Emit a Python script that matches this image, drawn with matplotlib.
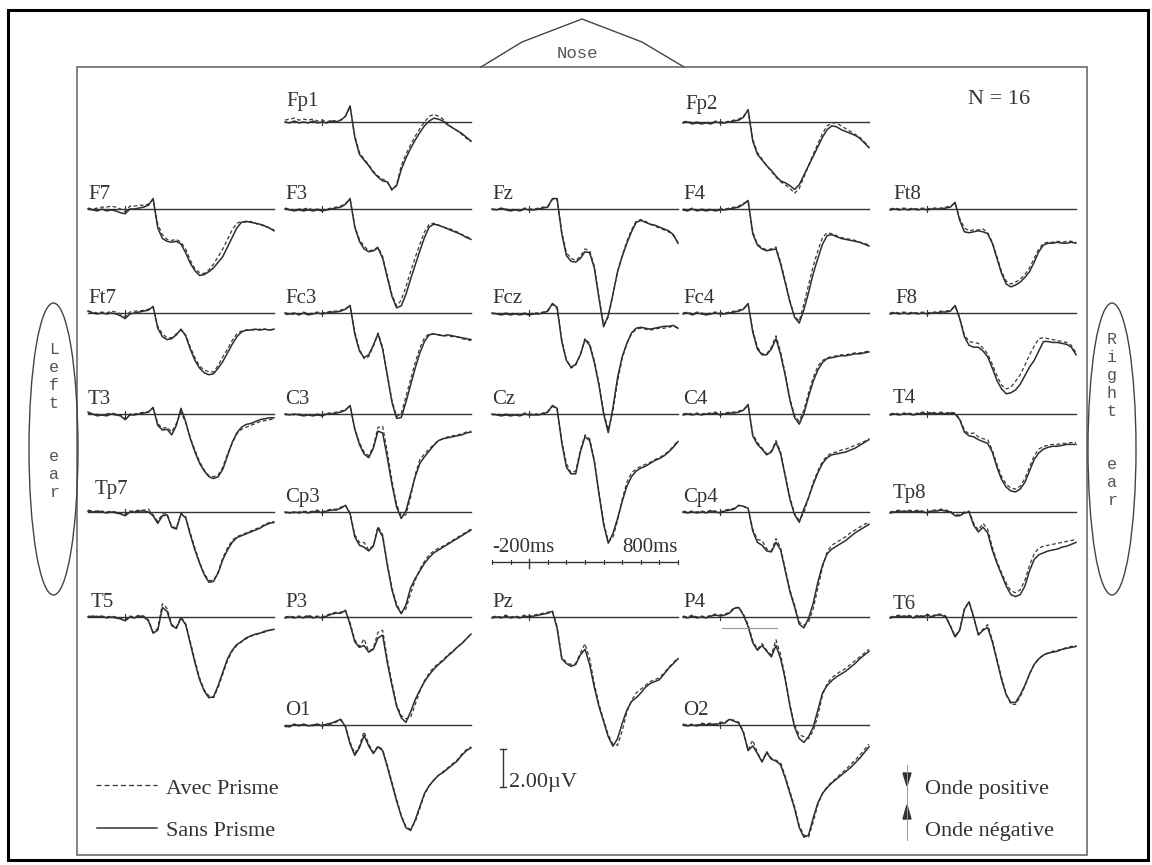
import numpy as np
import matplotlib
matplotlib.use('Agg')
import matplotlib.pyplot as plt
from matplotlib.patches import Ellipse, Rectangle, Polygon

# time base of every trace (ms), one sample every 25 ms
times = np.arange(-200, 801, 25)

# grand average ERPs, microvolts, positive wave plotted downwards
# column 1
f7_sans = [0.0, 0.05, 0.1, 0.0, 0.1, 0.05, 0.1, 0.2, 0.25, 0.0, 0.0, -0.05, -0.1, -0.2, -0.55, 1.0, 1.55, 1.7, 1.75, 1.7, 1.85, 2.3, 2.85, 3.25, 3.5, 3.45, 3.3, 3.1, 2.8, 2.5, 2.0, 1.5, 1.0, 0.7, 0.65, 0.7, 0.75, 0.8, 0.9, 1.0, 1.15]
f7_avec = [-0.05, 0.0, -0.05, -0.1, -0.1, -0.15, -0.1, 0.0, 0.15, -0.15, -0.15, -0.2, -0.2, -0.25, -0.5, 0.8, 1.35, 1.6, 1.65, 1.6, 1.75, 2.1, 2.7, 3.15, 3.35, 3.4, 3.2, 2.9, 2.5, 2.1, 1.6, 1.1, 0.75, 0.65, 0.7, 0.65, 0.75, 0.85, 0.85, 1.0, 1.1]
ft7_sans = [-0.1, 0.0, 0.05, 0.0, 0.05, 0.0, 0.05, 0.15, 0.3, 0.05, 0.0, -0.05, -0.1, -0.15, -0.35, 0.8, 1.25, 1.4, 1.35, 1.15, 0.85, 1.2, 1.9, 2.5, 2.9, 3.15, 3.25, 3.2, 2.9, 2.55, 2.1, 1.65, 1.25, 1.0, 0.9, 0.9, 0.85, 0.9, 0.85, 0.9, 0.85]
ft7_avec = [-0.1, -0.05, 0.0, -0.05, 0.0, -0.1, -0.05, 0.05, 0.2, -0.05, -0.1, -0.1, -0.15, -0.2, -0.3, 0.7, 1.1, 1.3, 1.3, 1.1, 0.9, 1.15, 1.8, 2.35, 2.8, 3.0, 3.1, 3.1, 2.75, 2.3, 1.9, 1.45, 1.1, 0.95, 0.9, 0.85, 0.9, 0.85, 0.85, 0.9, 0.85]
t3_sans = [-0.1, 0.0, 0.1, 0.05, 0.1, 0.0, 0.05, 0.1, 0.3, 0.05, 0.05, 0.0, -0.05, -0.1, -0.35, 0.6, 0.85, 0.8, 1.1, 0.6, -0.3, 0.4, 1.3, 2.0, 2.6, 3.0, 3.3, 3.4, 3.3, 2.9, 2.2, 1.5, 1.0, 0.7, 0.55, 0.5, 0.4, 0.3, 0.25, 0.2, 0.2]
t3_avec = [-0.05, 0.05, 0.0, 0.05, 0.0, -0.05, 0.0, 0.05, 0.25, 0.0, 0.0, -0.05, -0.1, -0.1, -0.3, 0.5, 0.75, 0.7, 0.95, 0.5, -0.1, 0.45, 1.25, 1.9, 2.5, 2.95, 3.25, 3.3, 3.2, 2.8, 2.1, 1.55, 1.05, 0.8, 0.7, 0.6, 0.5, 0.4, 0.35, 0.3, 0.25]
tp7_sans = [-0.05, 0.0, -0.05, 0.0, 0.05, 0.0, 0.05, 0.1, 0.2, 0.0, 0.0, -0.05, -0.05, 0.0, 0.2, 0.6, 0.2, 0.15, 0.8, 0.9, 0.1, 0.3, 1.2, 2.0, 2.7, 3.3, 3.7, 3.65, 3.2, 2.5, 2.0, 1.6, 1.35, 1.25, 1.15, 1.05, 0.95, 0.85, 0.7, 0.6, 0.55]
tp7_avec = [-0.1, -0.05, 0.0, -0.05, 0.0, -0.05, 0.0, 0.05, 0.15, -0.05, -0.05, -0.1, -0.1, -0.15, 0.15, 0.5, 0.1, 0.1, 0.75, 0.85, 0.05, 0.25, 1.1, 1.9, 2.65, 3.25, 3.6, 3.6, 3.15, 2.4, 1.9, 1.5, 1.3, 1.2, 1.1, 1.0, 0.9, 0.8, 0.65, 0.55, 0.5]
t5_sans = [0.0, -0.05, 0.0, -0.05, 0.05, 0.0, 0.05, 0.1, 0.2, 0.0, 0.05, -0.05, 0.0, 0.2, 0.85, 0.7, -0.5, -0.3, 0.45, 0.6, 0.05, 0.4, 1.4, 2.4, 3.3, 3.9, 4.25, 4.2, 3.6, 2.9, 2.2, 1.75, 1.45, 1.3, 1.1, 1.0, 0.9, 0.85, 0.75, 0.7, 0.65]
t5_avec = [-0.05, 0.0, -0.05, 0.0, 0.0, -0.05, 0.0, 0.05, 0.15, -0.05, 0.0, -0.1, -0.05, 0.15, 0.8, 0.6, -0.7, -0.45, 0.4, 0.55, 0.0, 0.35, 1.3, 2.3, 3.2, 3.85, 4.15, 4.25, 3.7, 3.0, 2.3, 1.8, 1.5, 1.3, 1.15, 1.0, 0.95, 0.85, 0.8, 0.7, 0.65]

# column 2
fp1_sans = [0.0, 0.05, -0.05, 0.05, 0.0, 0.05, -0.05, 0.05, 0.0, 0.05, -0.05, 0.0, -0.1, -0.3, -0.85, 0.8, 1.7, 2.0, 2.3, 2.65, 2.9, 3.1, 3.15, 3.55, 3.35, 2.5, 1.9, 1.4, 0.95, 0.55, 0.2, -0.05, -0.2, -0.15, -0.05, 0.15, 0.3, 0.45, 0.6, 0.8, 1.0]
fp1_avec = [-0.1, -0.15, -0.2, -0.1, -0.15, -0.1, -0.15, -0.05, -0.1, 0.0, -0.1, -0.05, -0.1, -0.3, -0.8, 0.7, 1.6, 1.95, 2.25, 2.6, 2.85, 3.0, 3.15, 3.6, 3.3, 2.3, 1.7, 1.2, 0.75, 0.35, 0.0, -0.3, -0.4, -0.3, -0.15, 0.1, 0.3, 0.45, 0.65, 0.85, 1.05]
f3_sans = [0.0, 0.05, 0.1, 0.05, 0.1, 0.05, 0.1, 0.05, 0.1, 0.05, 0.0, -0.05, -0.1, -0.25, -0.55, 0.95, 1.7, 2.1, 2.25, 2.2, 2.05, 2.6, 3.6, 4.6, 5.2, 5.1, 4.5, 3.7, 2.95, 2.2, 1.5, 0.95, 0.8, 0.85, 0.95, 1.05, 1.15, 1.25, 1.35, 1.5, 1.6]
f3_avec = [-0.05, 0.0, 0.05, 0.0, 0.0, -0.05, 0.05, 0.0, 0.05, 0.0, -0.05, -0.1, -0.15, -0.3, -0.5, 0.9, 1.6, 1.95, 2.2, 2.15, 2.0, 2.5, 3.5, 4.5, 5.1, 4.8, 4.1, 3.3, 2.55, 1.85, 1.2, 0.8, 0.75, 0.85, 0.95, 1.0, 1.1, 1.2, 1.35, 1.45, 1.55]
fc3_sans = [0.0, 0.05, 0.0, 0.1, 0.0, 0.1, 0.05, 0.0, 0.05, 0.0, -0.05, -0.05, -0.1, -0.2, -0.4, 1.1, 2.0, 2.35, 2.2, 1.7, 1.1, 1.9, 3.3, 4.7, 5.55, 5.5, 4.7, 3.8, 2.9, 2.1, 1.5, 1.15, 1.1, 1.15, 1.2, 1.15, 1.2, 1.25, 1.3, 1.35, 1.4]
fc3_avec = [0.05, 0.1, 0.05, 0.05, -0.05, 0.05, 0.0, -0.05, 0.0, -0.05, -0.1, -0.1, -0.15, -0.25, -0.35, 1.0, 1.9, 2.4, 2.3, 1.75, 1.05, 1.8, 3.2, 4.6, 5.45, 5.3, 4.4, 3.5, 2.6, 1.85, 1.3, 1.1, 1.1, 1.15, 1.2, 1.2, 1.25, 1.25, 1.35, 1.4, 1.45]
c3_sans = [0.0, 0.05, 0.0, 0.05, 0.1, 0.05, 0.1, 0.05, 0.1, 0.0, 0.0, -0.05, -0.1, -0.2, -0.45, 0.8, 1.6, 2.1, 2.3, 1.8, 0.9, 1.0, 2.3, 3.7, 4.9, 5.5, 5.1, 4.2, 3.3, 2.6, 2.25, 1.95, 1.65, 1.4, 1.3, 1.25, 1.2, 1.15, 1.1, 1.0, 0.95]
c3_avec = [0.05, 0.0, 0.05, 0.0, 0.05, 0.0, 0.05, 0.0, 0.05, -0.05, -0.05, -0.1, -0.15, -0.25, -0.4, 0.75, 1.5, 2.0, 2.2, 1.7, 0.7, 0.65, 2.0, 3.5, 4.75, 5.35, 5.3, 4.4, 3.2, 2.4, 2.1, 1.85, 1.6, 1.4, 1.3, 1.2, 1.15, 1.1, 1.05, 0.95, 0.9]
cp3_sans = [0.0, 0.05, 0.0, 0.05, 0.0, 0.05, 0.0, -0.05, 0.05, -0.05, -0.1, -0.1, -0.2, -0.35, 0.1, 1.3, 1.75, 1.85, 2.05, 1.8, 0.85, 1.3, 2.8, 4.1, 4.95, 5.35, 4.9, 4.0, 3.5, 3.1, 2.7, 2.4, 2.15, 2.0, 1.85, 1.7, 1.55, 1.4, 1.25, 1.1, 0.95]
cp3_avec = [0.05, 0.0, 0.05, 0.0, -0.05, 0.0, -0.05, -0.1, 0.0, -0.1, -0.15, -0.15, -0.25, -0.35, 0.05, 1.2, 1.6, 1.6, 2.0, 1.75, 0.75, 1.2, 2.7, 4.0, 4.85, 5.3, 5.1, 4.3, 3.6, 3.0, 2.6, 2.25, 2.05, 1.9, 1.8, 1.65, 1.5, 1.35, 1.2, 1.05, 0.9]
p3_sans = [0.05, 0.0, 0.05, 0.0, 0.05, -0.05, 0.05, 0.0, 0.05, -0.05, -0.15, -0.2, -0.2, -0.35, 0.4, 1.3, 1.6, 1.5, 1.85, 1.7, 1.1, 0.95, 2.4, 3.6, 4.7, 5.3, 5.55, 5.0, 4.35, 3.85, 3.4, 3.05, 2.75, 2.5, 2.3, 2.05, 1.85, 1.6, 1.4, 1.15, 0.9]
p3_avec = [0.0, -0.05, 0.0, -0.05, 0.0, -0.1, 0.0, -0.05, 0.0, -0.1, -0.2, -0.25, -0.25, -0.35, 0.3, 1.2, 1.55, 1.15, 1.8, 1.65, 0.8, 0.7, 2.2, 3.45, 4.6, 5.2, 5.35, 5.3, 4.6, 3.9, 3.35, 2.95, 2.65, 2.45, 2.25, 2.0, 1.8, 1.6, 1.4, 1.15, 0.9]
o1_sans = [0.05, 0.1, -0.05, 0.05, -0.05, 0.05, 0.0, -0.05, 0.05, -0.05, -0.1, -0.2, -0.3, 0.1, 1.0, 1.6, 1.2, 0.55, 1.1, 1.5, 1.15, 1.35, 2.2, 3.1, 4.0, 4.8, 5.4, 5.55, 5.0, 4.3, 3.6, 3.2, 2.9, 2.65, 2.5, 2.3, 2.1, 1.9, 1.6, 1.35, 1.2]
o1_avec = [0.1, 0.05, 0.0, 0.0, 0.0, 0.0, 0.05, 0.0, 0.0, 0.0, -0.05, -0.15, -0.25, 0.05, 0.9, 1.5, 1.1, 0.35, 1.0, 1.45, 1.1, 1.3, 2.1, 3.0, 3.9, 4.75, 5.35, 5.5, 5.1, 4.4, 3.65, 3.2, 2.9, 2.65, 2.45, 2.25, 2.05, 1.85, 1.55, 1.3, 1.15]

# column 3 (midline)
fz_sans = [0.0, 0.05, -0.05, 0.05, 0.1, 0.05, 0.1, 0.0, 0.05, 0.05, 0.0, -0.05, -0.1, -0.55, -0.55, 1.3, 2.45, 2.75, 2.8, 2.6, 2.25, 2.3, 3.1, 4.7, 6.2, 5.6, 4.5, 3.3, 2.5, 1.8, 1.2, 0.7, 0.6, 0.7, 0.8, 0.85, 0.95, 1.05, 1.15, 1.35, 1.8]
fz_avec = [0.05, 0.0, 0.0, 0.0, 0.05, 0.0, 0.05, -0.05, 0.0, 0.0, -0.05, -0.1, -0.15, -0.5, -0.5, 1.2, 2.3, 2.6, 2.7, 2.5, 2.1, 2.2, 3.0, 4.6, 6.1, 5.7, 4.5, 3.3, 2.45, 1.7, 1.1, 0.65, 0.55, 0.65, 0.8, 0.9, 1.0, 1.1, 1.2, 1.4, 1.75]
fcz_sans = [0.0, 0.05, 0.1, 0.05, 0.1, 0.05, 0.1, 0.05, 0.1, 0.05, 0.05, 0.0, -0.1, -0.5, -0.3, 1.5, 2.5, 2.85, 2.7, 2.2, 1.4, 1.7, 2.6, 3.8, 5.3, 6.3, 5.0, 3.4, 2.3, 1.6, 1.05, 0.8, 0.75, 0.8, 0.85, 0.8, 0.75, 0.7, 0.7, 0.65, 0.8]
fcz_avec = [0.05, 0.0, 0.05, 0.0, 0.05, 0.0, 0.05, 0.0, 0.05, 0.0, 0.0, -0.05, -0.15, -0.45, -0.25, 1.4, 2.45, 2.9, 2.75, 2.2, 1.35, 1.6, 2.5, 3.7, 5.2, 6.15, 5.2, 3.6, 2.4, 1.6, 1.1, 0.85, 0.8, 0.85, 0.9, 0.85, 0.8, 0.8, 0.75, 0.7, 0.8]
cz_sans = [0.0, 0.05, 0.1, 0.05, 0.1, 0.05, 0.1, 0.0, 0.05, 0.05, 0.05, 0.0, -0.1, -0.45, -0.3, 1.5, 2.8, 3.15, 3.15, 2.0, 1.2, 1.4, 2.5, 4.2, 5.8, 6.8, 6.3, 5.5, 4.6, 3.8, 3.3, 3.0, 2.85, 2.75, 2.6, 2.45, 2.35, 2.2, 2.0, 1.75, 1.45]
cz_avec = [0.05, 0.0, 0.05, 0.0, 0.05, 0.0, 0.05, -0.05, 0.0, 0.0, 0.0, -0.05, -0.15, -0.4, -0.25, 1.4, 2.6, 3.1, 3.0, 1.9, 1.1, 1.3, 2.4, 4.1, 5.7, 6.7, 6.5, 5.6, 4.5, 3.6, 3.1, 2.9, 2.75, 2.65, 2.55, 2.4, 2.3, 2.15, 1.95, 1.7, 1.4]
pz_sans = [0.05, 0.0, 0.05, -0.05, 0.05, 0.0, 0.05, -0.05, 0.0, -0.05, -0.1, -0.15, -0.2, -0.3, 0.6, 2.2, 2.45, 2.6, 2.5, 2.0, 1.7, 2.5, 3.7, 4.7, 5.5, 6.3, 6.8, 6.4, 5.6, 4.9, 4.45, 4.25, 4.0, 3.7, 3.5, 3.4, 3.3, 3.0, 2.7, 2.45, 2.2]
pz_avec = [0.0, -0.05, 0.0, -0.1, 0.0, -0.05, 0.0, -0.1, -0.05, -0.1, -0.15, -0.2, -0.25, -0.3, 0.5, 2.1, 2.4, 2.5, 2.45, 1.9, 1.4, 2.2, 3.5, 4.6, 5.4, 6.2, 6.7, 6.75, 6.0, 5.0, 4.4, 4.0, 3.8, 3.6, 3.4, 3.3, 3.2, 2.95, 2.65, 2.4, 2.15]

# column 4
fp2_sans = [0.05, 0.0, 0.1, 0.05, 0.1, 0.05, 0.1, 0.0, 0.05, 0.05, 0.0, -0.05, -0.1, -0.25, -0.65, 1.0, 1.7, 2.0, 2.3, 2.55, 2.85, 3.1, 3.2, 3.35, 3.55, 3.3, 2.8, 2.3, 1.8, 1.3, 0.8, 0.4, 0.2, 0.25, 0.4, 0.5, 0.6, 0.7, 0.85, 1.1, 1.35]
fp2_avec = [0.0, -0.05, 0.05, 0.0, 0.05, 0.0, 0.05, -0.05, 0.0, 0.0, -0.05, -0.1, -0.15, -0.3, -0.6, 0.9, 1.6, 1.95, 2.3, 2.6, 2.9, 3.15, 3.3, 3.5, 3.75, 3.5, 2.9, 2.3, 1.7, 1.15, 0.6, 0.2, 0.05, 0.05, 0.2, 0.35, 0.5, 0.65, 0.8, 1.05, 1.3]
f4_sans = [0.05, 0.1, 0.0, 0.1, 0.05, 0.1, 0.05, 0.1, 0.05, 0.05, 0.0, -0.05, -0.1, -0.25, -0.45, 1.3, 1.9, 2.1, 2.2, 2.15, 2.1, 2.9, 3.9, 4.9, 5.7, 6.0, 5.3, 4.4, 3.4, 2.6, 1.85, 1.4, 1.35, 1.45, 1.55, 1.6, 1.65, 1.7, 1.75, 1.85, 1.95]
f4_avec = [0.0, 0.05, -0.05, 0.05, 0.0, 0.05, 0.0, 0.05, 0.0, 0.0, -0.05, -0.1, -0.15, -0.3, -0.4, 1.2, 1.85, 2.05, 2.15, 2.1, 2.0, 2.8, 3.8, 4.85, 5.65, 5.9, 5.0, 4.0, 3.0, 2.2, 1.5, 1.25, 1.3, 1.4, 1.5, 1.55, 1.6, 1.65, 1.75, 1.8, 1.9]
fc4_sans = [0.05, 0.0, 0.1, 0.0, 0.05, 0.1, 0.05, 0.0, 0.05, 0.05, 0.0, -0.05, -0.1, -0.2, -0.5, 1.0, 1.9, 2.2, 2.2, 1.9, 1.35, 2.2, 3.3, 4.6, 5.5, 5.85, 5.3, 4.4, 3.6, 3.0, 2.6, 2.4, 2.35, 2.3, 2.25, 2.25, 2.2, 2.15, 2.15, 2.1, 2.05]
fc4_avec = [0.0, -0.05, 0.05, -0.05, 0.0, 0.05, 0.0, -0.05, 0.0, 0.0, -0.05, -0.1, -0.15, -0.25, -0.45, 0.9, 1.8, 2.15, 2.15, 1.8, 1.2, 2.05, 3.2, 4.5, 5.4, 5.7, 5.1, 4.2, 3.4, 2.8, 2.5, 2.35, 2.3, 2.25, 2.2, 2.2, 2.15, 2.1, 2.1, 2.05, 2.0]
c4_sans = [0.05, 0.0, 0.05, 0.0, 0.05, 0.0, 0.0, -0.05, 0.05, 0.0, -0.05, -0.05, -0.1, -0.2, -0.5, 1.15, 1.6, 1.85, 2.15, 2.0, 1.5, 2.1, 3.3, 4.5, 5.3, 5.7, 5.0, 4.4, 3.7, 3.1, 2.6, 2.3, 2.15, 2.1, 2.05, 2.0, 1.9, 1.8, 1.65, 1.5, 1.35]
c4_avec = [0.0, -0.05, 0.0, -0.05, 0.0, -0.05, -0.05, -0.1, 0.0, -0.05, -0.1, -0.1, -0.15, -0.25, -0.45, 1.05, 1.5, 1.8, 2.1, 1.95, 1.4, 2.0, 3.2, 4.4, 5.25, 5.6, 5.2, 4.4, 3.6, 3.0, 2.5, 2.2, 2.05, 2.0, 1.9, 1.85, 1.75, 1.65, 1.55, 1.45, 1.3]
cp4_sans = [0.0, 0.05, 0.0, 0.05, 0.0, 0.05, -0.05, 0.0, 0.05, -0.05, -0.1, -0.15, -0.35, -0.3, -0.2, 1.0, 1.6, 1.75, 2.05, 2.1, 1.6, 2.0, 3.1, 4.2, 5.0, 5.9, 6.1, 5.6, 4.8, 3.7, 2.8, 2.2, 1.95, 1.8, 1.65, 1.5, 1.3, 1.1, 0.95, 0.8, 0.65]
cp4_avec = [-0.05, 0.0, -0.05, 0.0, -0.05, 0.0, -0.1, -0.05, 0.0, -0.1, -0.15, -0.2, -0.35, -0.3, -0.15, 0.9, 1.45, 1.5, 1.95, 2.05, 1.4, 1.9, 3.0, 4.1, 4.9, 5.8, 5.95, 5.8, 5.1, 4.0, 2.9, 2.1, 1.75, 1.6, 1.45, 1.3, 1.1, 0.95, 0.8, 0.65, 0.55]
p4_sans = [0.0, 0.05, -0.05, 0.05, 0.0, 0.05, -0.05, -0.1, -0.05, -0.1, -0.2, -0.45, -0.5, -0.1, 0.5, 1.35, 1.75, 1.5, 1.8, 2.1, 1.5, 2.2, 3.3, 4.7, 5.8, 6.4, 6.6, 6.3, 5.8, 4.9, 4.0, 3.6, 3.35, 3.15, 3.0, 2.85, 2.65, 2.45, 2.2, 2.0, 1.8]
p4_avec = [-0.05, 0.0, -0.1, 0.0, -0.05, 0.0, -0.1, -0.15, -0.1, -0.15, -0.25, -0.5, -0.5, -0.15, 0.4, 1.25, 1.7, 1.4, 1.75, 2.0, 1.2, 2.0, 3.2, 4.6, 5.7, 6.2, 6.3, 6.4, 6.0, 5.2, 4.1, 3.5, 3.2, 3.0, 2.85, 2.7, 2.5, 2.3, 2.1, 1.9, 1.7]
o2_sans = [0.0, 0.05, 0.0, 0.05, -0.05, 0.0, -0.05, 0.0, -0.1, -0.1, -0.3, -0.2, -0.1, 0.4, 1.35, 1.1, 1.5, 1.95, 1.45, 1.8, 1.9, 2.1, 2.8, 3.6, 4.4, 5.4, 5.9, 5.8, 4.9, 4.1, 3.6, 3.3, 3.05, 2.85, 2.65, 2.45, 2.25, 2.0, 1.75, 1.45, 1.15]
o2_avec = [-0.05, 0.0, -0.05, 0.0, -0.1, -0.05, -0.1, -0.05, -0.15, -0.15, -0.3, -0.25, -0.15, 0.35, 1.3, 0.8, 1.45, 1.9, 1.4, 1.75, 1.85, 2.0, 2.7, 3.5, 4.3, 5.3, 5.8, 5.9, 5.1, 4.2, 3.6, 3.25, 3.0, 2.8, 2.55, 2.35, 2.1, 1.85, 1.6, 1.3, 1.0]

# column 5
ft8_sans = [0.05, 0.0, 0.05, 0.0, 0.05, 0.0, 0.05, 0.0, 0.05, 0.0, 0.0, 0.0, -0.05, -0.1, -0.35, 0.6, 1.2, 1.25, 1.2, 1.15, 1.2, 1.3, 1.8, 2.6, 3.4, 3.95, 4.1, 4.0, 3.85, 3.6, 3.3, 2.8, 2.25, 1.9, 1.8, 1.8, 1.75, 1.8, 1.8, 1.75, 1.8]
ft8_avec = [0.0, -0.05, 0.0, -0.05, 0.0, -0.05, 0.0, -0.05, 0.0, -0.05, -0.05, -0.05, -0.1, -0.15, -0.3, 0.5, 1.0, 1.15, 1.1, 1.1, 1.05, 1.25, 1.75, 2.5, 3.3, 3.8, 3.95, 3.85, 3.7, 3.45, 3.1, 2.6, 2.1, 1.8, 1.75, 1.75, 1.7, 1.75, 1.7, 1.7, 1.75]
f8_sans = [0.05, 0.0, 0.05, 0.0, 0.05, 0.0, 0.05, 0.0, 0.05, 0.0, 0.0, -0.05, -0.05, -0.1, -0.4, 0.3, 1.25, 1.7, 1.8, 1.8, 2.0, 2.3, 2.9, 3.55, 4.0, 4.25, 4.2, 4.05, 3.75, 3.3, 2.85, 2.5, 2.0, 1.5, 1.5, 1.55, 1.55, 1.6, 1.65, 1.8, 2.2]
f8_avec = [0.0, -0.05, 0.0, -0.05, 0.0, -0.05, 0.0, -0.05, 0.0, -0.05, -0.05, -0.1, -0.1, -0.15, -0.35, 0.25, 1.15, 1.5, 1.55, 1.6, 1.85, 2.15, 2.7, 3.3, 3.8, 4.0, 3.9, 3.6, 3.25, 2.75, 2.2, 1.75, 1.35, 1.3, 1.35, 1.4, 1.45, 1.5, 1.55, 1.7, 2.1]
t4_sans = [0.05, 0.0, 0.05, 0.0, 0.0, 0.05, 0.0, -0.05, 0.0, -0.05, 0.0, -0.05, 0.0, -0.05, 0.0, 0.3, 0.95, 1.15, 1.2, 1.35, 1.45, 1.55, 2.0, 2.8, 3.45, 3.85, 4.05, 4.1, 3.95, 3.6, 3.0, 2.4, 2.05, 1.85, 1.75, 1.7, 1.7, 1.65, 1.6, 1.6, 1.6]
t4_avec = [0.0, -0.05, 0.0, -0.05, -0.05, 0.0, -0.05, -0.1, -0.05, -0.1, -0.05, -0.1, -0.05, -0.1, -0.05, 0.25, 0.85, 1.05, 1.0, 1.2, 1.3, 1.35, 1.9, 2.65, 3.3, 3.7, 3.9, 3.95, 3.8, 3.4, 2.8, 2.2, 1.85, 1.7, 1.65, 1.6, 1.6, 1.55, 1.55, 1.5, 1.5]
tp8_sans = [0.05, 0.0, -0.05, 0.0, -0.05, 0.0, -0.05, 0.0, 0.05, -0.05, -0.05, -0.1, -0.05, 0.0, 0.2, 0.2, 0.05, 0.0, 0.7, 1.05, 0.8, 1.1, 2.0, 2.7, 3.3, 3.9, 4.35, 4.45, 4.35, 3.9, 3.1, 2.5, 2.25, 2.15, 2.05, 2.0, 1.95, 1.85, 1.8, 1.7, 1.6]
tp8_avec = [0.0, -0.05, -0.1, -0.05, -0.1, -0.05, -0.1, -0.05, 0.0, -0.1, -0.1, -0.15, -0.1, -0.05, 0.15, 0.15, 0.0, -0.05, 0.6, 0.95, 0.6, 0.9, 1.85, 2.6, 3.2, 3.75, 4.15, 4.25, 4.1, 3.6, 2.8, 2.2, 1.9, 1.8, 1.75, 1.7, 1.65, 1.6, 1.55, 1.5, 1.45]
t6_sans = [0.05, 0.0, -0.05, 0.0, -0.05, 0.05, -0.05, 0.0, -0.1, 0.0, -0.1, -0.1, 0.0, 0.5, 1.05, 0.7, -0.4, -0.8, 0.0, 0.95, 0.7, 0.55, 1.3, 2.3, 3.3, 4.1, 4.5, 4.5, 4.1, 3.6, 3.0, 2.5, 2.2, 2.0, 1.9, 1.85, 1.8, 1.7, 1.65, 1.6, 1.55]
t6_avec = [0.0, -0.05, -0.1, -0.05, -0.1, 0.0, -0.1, -0.05, -0.15, -0.05, -0.15, -0.15, -0.05, 0.45, 1.0, 0.65, -0.45, -0.8, 0.05, 0.9, 0.65, 0.4, 1.2, 2.2, 3.2, 4.05, 4.6, 4.6, 4.2, 3.65, 3.0, 2.5, 2.2, 2.0, 1.9, 1.8, 1.75, 1.7, 1.6, 1.55, 1.5]

# electrode name, column, row, avec prisme, sans prisme
electrodes = [
    ('F7', 0, 1, f7_avec, f7_sans), ('Ft7', 0, 2, ft7_avec, ft7_sans),
    ('T3', 0, 3, t3_avec, t3_sans), ('Tp7', 0, 4, tp7_avec, tp7_sans),
    ('T5', 0, 5, t5_avec, t5_sans),
    ('Fp1', 1, 0, fp1_avec, fp1_sans), ('F3', 1, 1, f3_avec, f3_sans),
    ('Fc3', 1, 2, fc3_avec, fc3_sans), ('C3', 1, 3, c3_avec, c3_sans),
    ('Cp3', 1, 4, cp3_avec, cp3_sans), ('P3', 1, 5, p3_avec, p3_sans),
    ('O1', 1, 6, o1_avec, o1_sans),
    ('Fz', 2, 1, fz_avec, fz_sans), ('Fcz', 2, 2, fcz_avec, fcz_sans),
    ('Cz', 2, 3, cz_avec, cz_sans), ('Pz', 2, 5, pz_avec, pz_sans),
    ('Fp2', 3, 0, fp2_avec, fp2_sans), ('F4', 3, 1, f4_avec, f4_sans),
    ('Fc4', 3, 2, fc4_avec, fc4_sans), ('C4', 3, 3, c4_avec, c4_sans),
    ('Cp4', 3, 4, cp4_avec, cp4_sans), ('P4', 3, 5, p4_avec, p4_sans),
    ('O2', 3, 6, o2_avec, o2_sans),
    ('Ft8', 4, 1, ft8_avec, ft8_sans), ('F8', 4, 2, f8_avec, f8_sans),
    ('T4', 4, 3, t4_avec, t4_sans), ('Tp8', 4, 4, tp8_avec, tp8_sans),
    ('T6', 4, 5, t6_avec, t6_sans),
]

# page layout in pixels
PX_PER_MS = 0.186
PX_PER_UV = 19.0
COL_X = [88, 285, 492, 683, 890]
ROW_Y = [122, 209, 313, 414, 512, 617, 725]
label_pos = {'Fp1': (1, 16), 'Fp2': (2, 13), 'Tp7': (7, 18), 'T5': (3, 10),
             'Ft8': (3, 10), 'F8': (5, 10), 'T4': (3, 11), 'Tp8': (3, 14), 'T6': (3, 8)}

INK = '#2e2e2e'
SERIF = 'Liberation Serif'

fig = plt.figure(figsize=(11.52, 8.65), dpi=100)
ax = fig.add_axes([0, 0, 1, 1])
ax.set_xlim(0, 1152)
ax.set_ylim(865, 0)
ax.axis('off')

# frames
ax.add_patch(Rectangle((8, 10), 1140, 850, fill=False, ec='black', lw=2.2))
ax.add_patch(Rectangle((77, 67), 1010, 788, fill=False, ec='#777777', lw=1.3))

# nose and ears
ax.plot([481, 522, 582, 642, 684], [67, 42, 19, 42, 67], color='#444444', lw=1.0)
ax.text(577, 53, 'Nose', family='Liberation Mono', fontsize=12.5, color='#555555',
        ha='center', va='center')
ax.add_patch(Ellipse((53.5, 449), 49, 292, fill=False, ec='#444444', lw=1.0))
ax.add_patch(Ellipse((1112, 449), 48, 292, fill=False, ec='#444444', lw=1.0))
for i, ch in enumerate('Left  ear'):
    if ch != ' ':
        ax.text(54, 350 + 17.8 * i, ch, family='Liberation Mono', fontsize=12,
                color='#555555', ha='center', va='center')
for i, ch in enumerate('Right  ear'):
    if ch != ' ':
        ax.text(1112, 340 + 17.8 * i, ch, family='Liberation Mono', fontsize=12,
                color='#555555', ha='center', va='center')

# traces
for name, col, row, avec, sans in electrodes:
    x0, y0 = COL_X[col], ROW_Y[row]
    xs = x0 + (times - times[0]) * PX_PER_MS
    x_end = x0 + (times[-1] - times[0]) * PX_PER_MS
    x_zero = x0 + (0 - times[0]) * PX_PER_MS
    ax.plot([x0, x_end], [y0, y0], color='#333333', lw=1.0)
    ax.plot([x_zero, x_zero], [y0 - 3, y0 + 3], color='#333333', lw=0.8)
    ax.plot(xs, y0 + np.array(avec) * PX_PER_UV, color='#3a3a3a', lw=0.9,
            ls=(0, (3, 2)))
    ax.plot(xs, y0 + np.array(sans) * PX_PER_UV, color=INK, lw=1.1)
    dx, gap = label_pos.get(name, (0, 10))
    ax.text(x0 + dx, y0 - gap, name, family=SERIF, fontsize=15, color='#333333',
            ha='left', va='baseline')

# stray calibration line under P4
ax.plot([722, 777], [628, 628], color='#999999', lw=0.8)

# time scale
sx0, sy = COL_X[2], 562
ax.plot([sx0, sx0 + 1000 * PX_PER_MS], [sy, sy], color='#333333', lw=1.0)
for t in range(-200, 801, 100):
    xt = sx0 + (t + 200) * PX_PER_MS
    if t == 0:
        ax.plot([xt, xt], [sy - 3, sy + 6], color='#333333', lw=1.0)
    else:
        ax.plot([xt, xt], [sy - 2, sy + 2], color='#333333', lw=0.8)
ax.text(sx0, 552, '-200ms', family=SERIF, fontsize=15, color='#333333',
        ha='left', va='baseline')
ax.text(sx0 + 1000 * PX_PER_MS, 552, '800ms', family=SERIF, fontsize=15,
        color='#333333', ha='right', va='baseline')

# amplitude scale
bar_top = 787 - 2.0 * PX_PER_UV
ax.plot([503, 503], [bar_top, 787], color='#333333', lw=1.0)
ax.plot([500, 506], [bar_top, bar_top], color='#333333', lw=1.0)
ax.plot([500, 506], [787, 787], color='#333333', lw=1.0)
ax.text(509, 787, '2.00\u00b5V', family=SERIF, fontsize=16, color='#333333',
        ha='left', va='baseline')

# N
ax.text(999, 104, 'N = 16', family=SERIF, fontsize=16, color='#333333',
        ha='center', va='baseline')

# legend, conditions
ax.plot([96, 157], [785, 785], color='#333333', lw=0.9, ls=(0, (4, 2.5)))
ax.plot([97, 157], [828, 828], color='#333333', lw=1.1)
ax.text(166, 794, 'Avec Prisme', family=SERIF, fontsize=16, color='#333333',
        ha='left', va='baseline')
ax.text(166, 836, 'Sans Prisme', family=SERIF, fontsize=16, color='#333333',
        ha='left', va='baseline')

# legend, polarity
ax.plot([907, 907], [765, 840], color='#999999', lw=0.7)
ax.add_patch(Polygon([[903, 773], [911, 773], [907, 786]], closed=True,
                     color='#333333'))
ax.add_patch(Polygon([[903, 819], [911, 819], [907, 805]], closed=True,
                     color='#333333'))
ax.text(925, 794, 'Onde positive', family=SERIF, fontsize=16, color='#333333',
        ha='left', va='baseline')
ax.text(925, 836, 'Onde n\u00e9gative', family=SERIF, fontsize=16, color='#333333',
        ha='left', va='baseline')

fig.savefig('out.png', dpi=100)
